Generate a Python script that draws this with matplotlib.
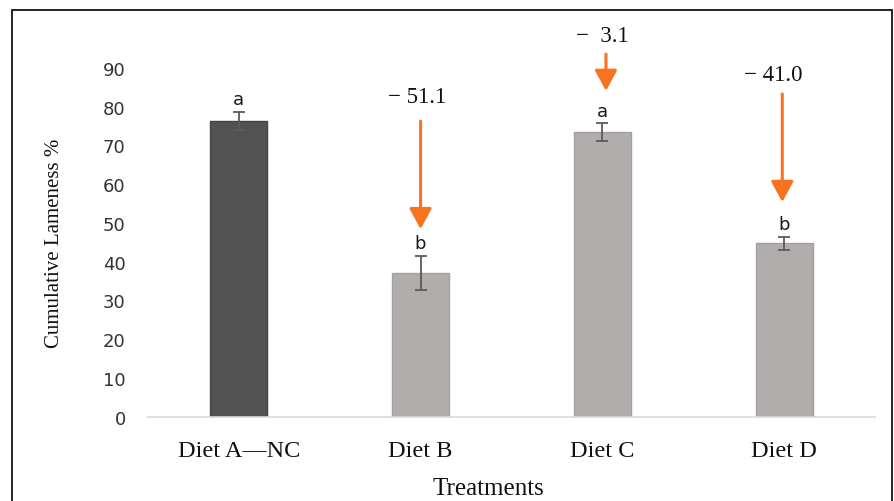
import matplotlib
matplotlib.use("Agg")
import matplotlib.pyplot as plt
from matplotlib.patches import Rectangle

categories = ["Diet A\u2014NC", "Diet B", "Diet C", "Diet D"]
values = [76.3, 37.0, 73.4, 44.7]
errors = [2.3, 4.4, 2.3, 1.6]
letters = ["a", "b", "a", "b"]
change_labels = [None, "\u2212 51.1", "\u2212  3.1", "\u2212 41.0"]

# arrow geometry (data coords): start, end, label y
arrow_start = [None, 76.3, 93.6, 83.3]
arrow_end = [None, 48.4, 84.1, 55.4]
label_y = [None, 82.6, 98.4, 88.4]
arrow_dx = [0, 0, 0.02, -0.01]
label_dx = [0, -0.02, 0.0, -0.06]

fig = plt.figure(figsize=(8.94, 5.02), dpi=100)
ax = fig.add_axes([0.1655, 0.1683, 0.8132, 0.6942])

x = list(range(len(categories)))
colors = ["#525252", "#b1adac", "#b1adac", "#b1adac"]
edges = ["#444444", "#a39f9e", "#a39f9e", "#a39f9e"]
ax.bar(x, values, width=0.314, color=colors, edgecolor=edges, linewidth=1, zorder=2)
ax.errorbar(x, values, yerr=errors, fmt="none", ecolor="#5a5a5a", elinewidth=1.3,
            capsize=4, capthick=1.3, zorder=3)

for i, (v, e, l) in enumerate(zip(values, errors, letters)):
    ax.text(i, v + e + 1.0, l, ha="center", va="bottom", fontsize=13,
            family="DejaVu Sans", color="#1a1a1a", clip_on=False)

orange = "#f9731e"
for i in range(len(categories)):
    if change_labels[i] is None:
        continue
    ax.annotate("", xy=(i + arrow_dx[i], arrow_end[i]), xytext=(i + arrow_dx[i], arrow_start[i]),
                arrowprops=dict(arrowstyle="-|>,head_length=0.7,head_width=0.38",
                                color=orange, lw=2.2, mutation_scale=18,
                                shrinkA=0, shrinkB=0),
                annotation_clip=False)
    ax.text(i + label_dx[i], label_y[i], change_labels[i], ha="center", va="center",
            fontsize=16.5, family="Liberation Serif", color="#111111", clip_on=False)

ax.set_xlim(-0.5, 3.5)
ax.set_ylim(0, 90)
ax.set_yticks(range(0, 91, 10))
ax.set_xticks(x)
ax.set_xticklabels(categories, fontsize=17.5, family="Liberation Serif", color="#111111")
for lbl in ax.get_yticklabels():
    lbl.set_fontsize(13)
    lbl.set_color("#333333")
ax.tick_params(axis="both", length=0)
ax.tick_params(axis="y", pad=16)
ax.tick_params(axis="x", pad=17)
for s in ["left", "right", "top"]:
    ax.spines[s].set_visible(False)
ax.spines["bottom"].set_color("#d9d9d9")
ax.spines["bottom"].set_linewidth(1.2)

fig.text(0.546, 0.026, "Treatments", ha="center", va="center", fontsize=18,
         family="Liberation Serif", color="#111111")
fig.text(0.0615, 0.516, "Cumulative Lameness %", ha="center", va="center", rotation=90,
         fontsize=15, family="Liberation Serif", color="#111111")

frame = Rectangle((12 / 894, -0.05), (892 - 12) / 894, 1 - 11 / 502 + 0.05,
                  transform=fig.transFigure, fill=False, edgecolor="#111111", lw=1.3)
fig.patches.append(frame)

fig.savefig("out.png", dpi=100, facecolor="white")
